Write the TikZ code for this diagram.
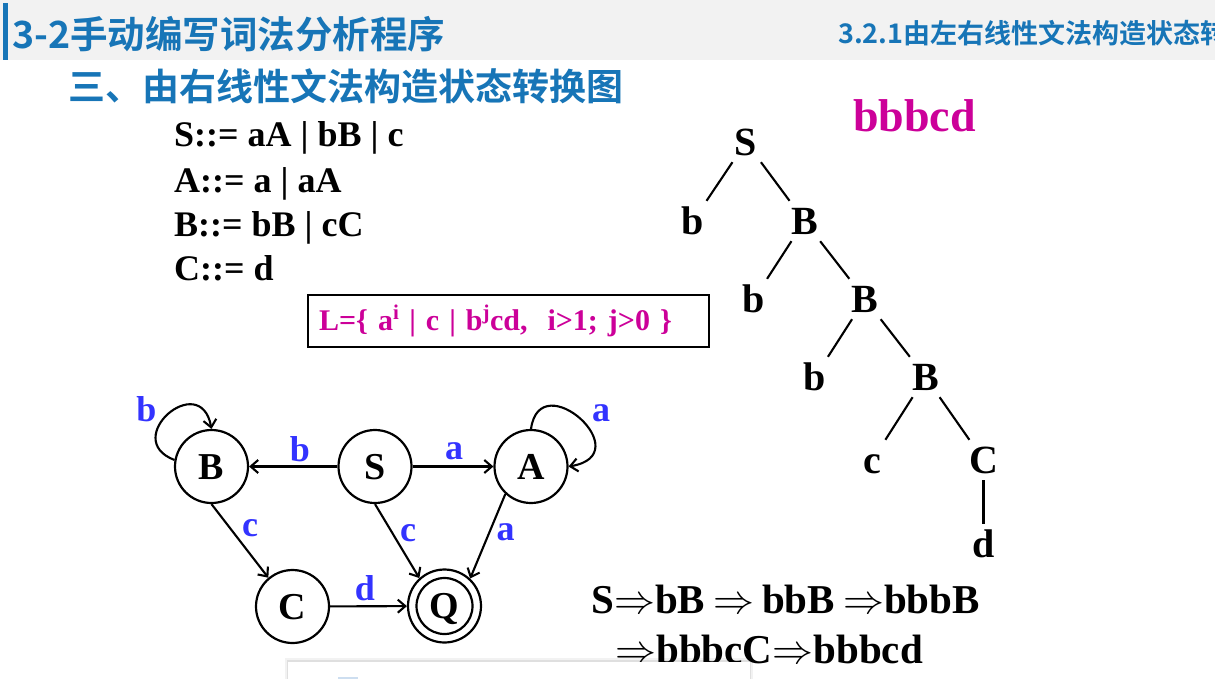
\RequirePackage{fix-cm}
\documentclass[tikz,border=0pt]{standalone}
\usepackage{fontspec}
\setmainfont{Liberation Serif}
\newfontfamily\cjk{Noto Sans CJK SC Bold}
\usetikzlibrary{arrows.meta}
\definecolor{hdrblue}{RGB}{23,117,183}
\definecolor{hdrgray}{RGB}{242,242,242}
\definecolor{mag}{RGB}{204,0,153}
\definecolor{lblblue}{RGB}{51,51,255}
\definecolor{boxblue}{RGB}{205,222,240}
\newcommand\derarr{$\Rightarrow$}
\begin{document}
\begin{tikzpicture}[x=1pt,y=-1pt,
  state/.style={circle, draw, line width=2.2pt, minimum size=73pt, inner sep=0pt,
    font=\fontsize{38}{40}\selectfont\bfseries, text height=25pt, text depth=0pt},
  edge/.style={line width=2.1pt, -{Straight Barb[length=7.5pt,width=13pt]}},
  lbl/.style={text=lblblue, font=\fontsize{36}{36}\selectfont\bfseries, anchor=base, inner sep=0pt},
  tn/.style={font=\fontsize{40}{40}\selectfont\bfseries, text height=26pt, text depth=0pt, inner sep=7pt},
  tl/.style={line width=2.1pt},
  title/.style={anchor=base west, inner sep=0pt, text=hdrblue},
  gram/.style={anchor=base west, inner sep=0pt, font=\fontsize{36}{36}\selectfont\bfseries},
  deriv/.style={anchor=base west, inner sep=0pt, font=\fontsize{41}{41}\selectfont\bfseries}
]
\useasboundingbox (0,0) rectangle (1215,678);
\fill[white] (0,0) rectangle (1215,678);
% header
\fill[hdrgray] (0,0) rectangle (1215,60);
\fill[hdrblue] (3,3) rectangle (8,60);
\node[title, font=\cjk\fontsize{37.5}{37.5}\selectfont] (t1) at (12,48) {3-2手动编写词法分析程序};
\node[title, font=\cjk\fontsize{27}{27}\selectfont] (t3) at (838,43) {3.2.1由左右线性文法构造状态转};
\node[title, font=\cjk\fontsize{37}{37}\selectfont] (t2) at (68,100) {三、由右线性文法构造状态转换图};
% grammar
\node[gram] (g1) at (174,146) {S::= aA | bB | c};
\node[gram] (g2) at (174,192) {A::= a | aA};
\node[gram] (g3) at (174,236) {B::= bB | cC};
\node[gram] (g4) at (174,280) {C::= d};
% language box
\node[draw, line width=2.2pt, anchor=north west, minimum height=52pt, text width=379pt,
  inner xsep=11pt, align=left, text=mag, font=\fontsize{30}{30}\selectfont\bfseries]
  (L) at (307,294) {L=\{ a\textsuperscript{i} | c | b\textsuperscript{j}cd,\ \ i>1; j>0 \}};
% word
\node[anchor=base west, inner sep=0pt, text=mag, font=\fontsize{46}{46}\selectfont\bfseries] (w) at (853,131) {bbbcd};
% derivation tree
\node[tn] (tS) at (746,142) {S};
\node[tn] (tb1) at (693,221) {b};
\node[tn] (tB1) at (804.5,221) {B};
\node[tn] (tb2) at (754,299) {b};
\node[tn] (tB2) at (865,299) {B};
\node[tn] (tb3) at (815,377) {b};
\node[tn] (tB3) at (925.5,377) {B};
\node[tn] (tc) at (872.5,460) {c};
\node[tn] (tC) at (983.5,460) {C};
\node[tn] (td) at (983.5,544) {d};
\draw[tl] (tS) -- (tb1);
\draw[tl] (tS) -- (tB1);
\draw[tl] (tB1) -- (tb2);
\draw[tl] (tB1) -- (tB2);
\draw[tl] (tB2) -- (tb3);
\draw[tl] (tB2) -- (tB3);
\draw[tl] (tB3) -- (tc);
\draw[tl] (tB3) -- (tC);
\draw[tl] (tC) -- (td);
% automaton
\node[state] (B) at (211.5,466.5) {B};
\node[state] (S) at (375,466.5) {S};
\node[state] (A) at (531,466.5) {A};
\node[state] (C) at (292.5,606.5) {C};
\node[state] (Q) at (444.5,606) {Q};
\draw[line width=2.2pt] (Q.center) circle[radius=28pt];
\draw[edge] (S) -- (B);
\draw[edge] (S) -- (A);
\draw[edge] (B.south) -- (C.130);
\draw[edge] (S.south) -- (Q.132);
\draw[edge] (A.227) -- (Q.47);
\draw[edge] (C) -- (Q);
\draw[edge] (B.170) .. controls +(-55,-21) and +(-11,-60) .. (B.north);
\draw[edge] (A.north) .. controls +(9,-65) and +(72,-12) .. (A.east);
\node[lbl] (lSB) at (300,461) {b};
\node[lbl] (lSA) at (454,459) {a};
\node[lbl] (lBC) at (250,536) {c};
\node[lbl] (lSQ) at (408,541.5) {c};
\node[lbl] (lAQ) at (505.5,540) {a};
\node[lbl] (lCQ) at (365,600) {d};
\node[lbl] (lBB) at (146.5,421.5) {b};
\node[lbl] (lAA) at (601,421.5) {a};
% derivation
\node[deriv] (d1) at (591,613) {S\derarr bB\hspace{8pt}\derarr\hspace{8pt}bbB\hspace{8pt}\derarr bbbB};
\node[deriv] (d2) at (615,663) {\derarr bbbcC\derarr bbbcd};
% overlapping white box at bottom
\fill[black, opacity=.05] (285,658) rectangle (753,690);
\fill[black, opacity=.08] (287,660) rectangle (751,690);
\fill[white] (288,661.5) rectangle (750,690);
\fill[boxblue] (338,676.5) rectangle (358,690);
\end{tikzpicture}
\end{document}
